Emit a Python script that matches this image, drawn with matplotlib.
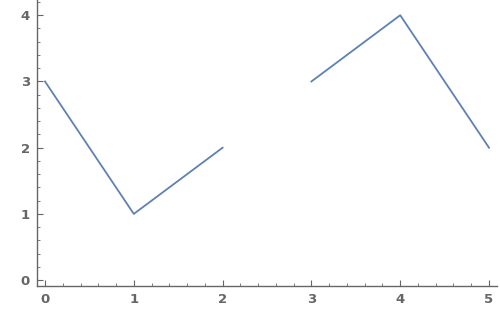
import matplotlib
matplotlib.use("Agg")
import matplotlib.pyplot as plt
from matplotlib.ticker import MultipleLocator
import numpy as np

# two pieces of the line, with a gap between x=2 and x=3
x_vals = [0, 1, 2, np.nan, 3, 4, 5]
y_vals = [3, 1, 2, np.nan, 3, 4, 2]

fig = plt.figure(figsize=(5, 3.3), dpi=100)
ax = fig.add_axes([0.074, 0.133, 0.92, 0.867])
ax.plot(x_vals, y_vals, color="#5E81B5", lw=1.3)

ax.set_xlim(-0.09, 5.09)
ax.set_ylim(-0.09, 4.23)
ax.xaxis.set_major_locator(MultipleLocator(1))
ax.xaxis.set_minor_locator(MultipleLocator(0.2))
ax.yaxis.set_major_locator(MultipleLocator(1))
ax.yaxis.set_minor_locator(MultipleLocator(0.2))

grey = "#666666"
for s in ["top", "right"]:
    ax.spines[s].set_visible(False)
for s in ["left", "bottom"]:
    ax.spines[s].set_color(grey)
    ax.spines[s].set_linewidth(1.0)
ax.tick_params(which="major", direction="in", length=4, color=grey, labelcolor=grey,
               labelsize=9.5, pad=5)
ax.tick_params(which="minor", direction="in", length=2, color=grey)
for lab in ax.get_xticklabels() + ax.get_yticklabels():
    lab.set_fontweight("bold")

fig.savefig("out.png", dpi=100)
